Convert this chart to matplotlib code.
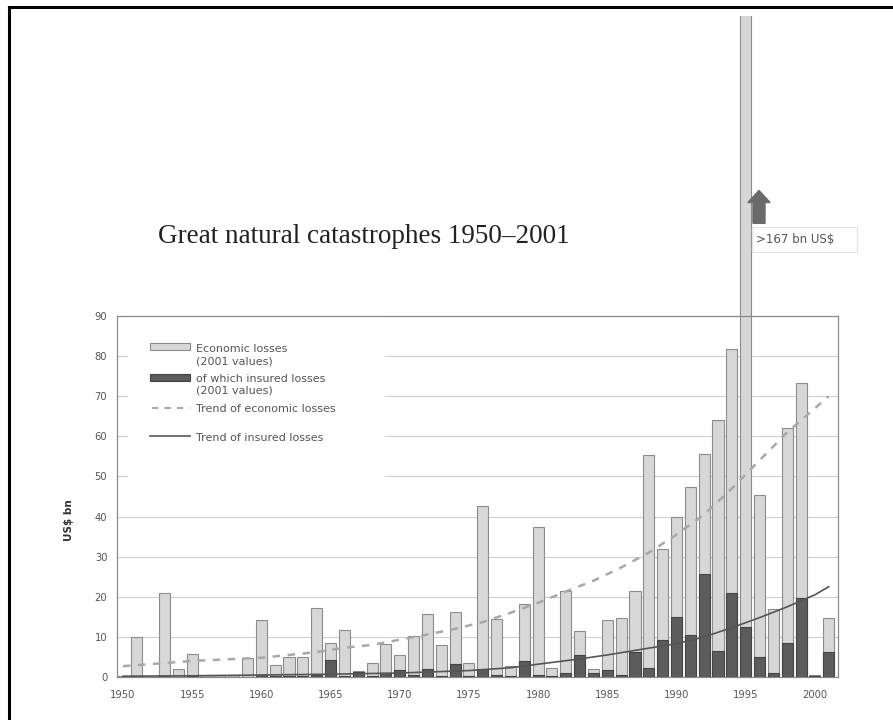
import matplotlib
matplotlib.use('Agg')
import matplotlib.pyplot as plt
from matplotlib.patches import Rectangle, FancyArrow
from matplotlib.lines import Line2D

# yearly losses in US$ bn (2001 values)
years = list(range(1950, 2002))
economic = [0.3, 10, 0, 21, 2, 5.7, 0.5, 0.5, 0.5, 4.8,
            14.2, 2.9, 4.9, 4.9, 17.2, 8.4, 11.6, 1.5, 3.4, 8.2,
            5.5, 10.1, 15.6, 8.1, 16.1, 3.4, 42.6, 14.4, 2.7, 18.3,
            37.5, 2.2, 21.4, 11.4, 1.9, 14.1, 14.6, 21.4, 55.3, 32,
            40, 47.4, 55.5, 64, 81.7, 167, 45.4, 17, 62, 73.2,
            0.6, 14.8]
insured = [0, 0.2, 0, 0.3, 0, 0.2, 0.1, 0.1, 0.1, 0.1,
           0.4, 0.2, 0.3, 0.3, 0.6, 4.3, 0.3, 1.3, 0.3, 1.1,
           1.7, 0.4, 2.1, 0.3, 3.3, 0.3, 2.1, 0.5, 0.3, 4.1,
           0.6, 0.2, 1.1, 5.4, 1.1, 1.7, 0.5, 6.2, 2.3, 9.1,
           15, 10.4, 25.7, 6.4, 21, 12.4, 5.1, 1.1, 8.4, 19.8,
           0.3, 6.2]

# trend curves, read at a few points
econ_trend_years = [1950, 1955, 1960, 1964, 1966, 1968, 1970, 1972, 1974, 1976,
                    1978, 1980, 1982, 1984, 1986, 1988, 1990, 1992, 1994, 1996,
                    1998, 2000, 2001]
econ_trend = [2.7, 4.0, 4.8, 6.2, 7.3, 8.0, 9.3, 10.6, 12.0, 13.7,
              16.0, 18.5, 21.3, 24.0, 27.3, 31.0, 35.5, 40.5, 47.0, 54.0,
              61.0, 67.0, 70.0]
ins_trend_years = [1950, 1955, 1960, 1965, 1970, 1975, 1978, 1980, 1983, 1985,
                   1988, 1990, 1992, 1994, 1996, 1998, 2000, 2001]
ins_trend = [0.2, 0.3, 0.5, 0.7, 1.0, 1.6, 2.3, 3.2, 4.5, 5.5,
             7.2, 8.3, 10.0, 12.3, 14.8, 17.5, 20.5, 22.5]

yticks = list(range(0, 91, 10))
xticks = list(range(1950, 2001, 5))

ECO_FACE, ECO_EDGE = '#d7d7d7', '#8c8c8c'
INS_FACE, INS_EDGE = '#5c5c5c', '#444444'
ETR_COL, ITR_COL = '#a8a8a8', '#555555'

W, H = 893, 720
fig = plt.figure(figsize=(W / 100, H / 100), dpi=100)
fig.patch.set_facecolor('white')

def fx(px):
    return px / W

def fy(py):
    return 1 - py / H

ax = fig.add_axes([fx(117), fy(677), (838 - 117) / W, (677 - 316) / H])
ax.set_xlim(1949.57, 2001.67)
ax.set_ylim(0, 90)

# white box behind legend hides the grid lines
ax.add_patch(Rectangle((0.015, 0.51), 0.357, 0.49, transform=ax.transAxes,
                       facecolor='white', edgecolor='none', zorder=1))

eco_bars = ax.bar(years, economic, width=0.8, color=ECO_FACE,
                  edgecolor=ECO_EDGE, linewidth=0.8, zorder=2)
ax.bar(years, insured, width=0.8, color=INS_FACE,
       edgecolor=INS_EDGE, linewidth=0.8, zorder=3)

# the 1995 bar runs out of the plot up to the frame
big = eco_bars[years.index(1995)]
big.set_clip_path(Rectangle((0, 0), 1, fy(16), transform=fig.transFigure))

ax.plot(econ_trend_years, econ_trend, color=ETR_COL, lw=1.8,
        dashes=(3, 3), zorder=4)
ax.plot(ins_trend_years, ins_trend, color=ITR_COL, lw=1.2, zorder=4)

ax.set_yticks(yticks)
ax.set_xticks(xticks)
ax.tick_params(axis='both', length=0, labelsize=7.2, labelcolor='#555555')
ax.tick_params(axis='y', pad=7)
ax.tick_params(axis='x', pad=9)
ax.yaxis.grid(True, color='#cfcfcf', lw=0.8)
ax.set_axisbelow(True)
for s in ax.spines.values():
    s.set_color('#8a8a8a')
    s.set_linewidth(0.9)
ax.set_ylabel('US$ bn', fontsize=7.5, color='#333333', fontweight='bold')
ax.yaxis.set_label_coords(-0.06, 0.435)

# legend, laid out like the original (keys aligned with first text line)
lt = dict(fontsize=8, color='#555555', va='center', ha='left')
fig.add_artist(Rectangle((fx(150), fy(350.5)), 40 / W, 7.5 / H, transform=fig.transFigure,
                         facecolor=ECO_FACE, edgecolor=ECO_EDGE, lw=0.8))
fig.text(fx(196), fy(349.3), 'Economic losses', **lt)
fig.text(fx(196), fy(361.5), '(2001 values)', **lt)
fig.add_artist(Rectangle((fx(150), fy(380.5)), 40 / W, 6.5 / H, transform=fig.transFigure,
                         facecolor=INS_FACE, edgecolor=INS_EDGE, lw=0.8))
fig.text(fx(196), fy(379.3), 'of which insured losses', **lt)
fig.text(fx(196), fy(390.7), '(2001 values)', **lt)
fig.add_artist(Line2D([fx(152), fx(190)], [fy(408.3)] * 2, transform=fig.transFigure,
                      color=ETR_COL, lw=1.5, dashes=(3, 3)))
fig.text(fx(196), fy(409.3), 'Trend of economic losses', **lt)
fig.add_artist(Line2D([fx(150), fx(190)], [fy(436.5)] * 2, transform=fig.transFigure,
                      color=ITR_COL, lw=1.2))
fig.text(fx(196), fy(438.0), 'Trend of insured losses', **lt)

# arrow and note for the off-scale 1995 bar
ax.add_patch(FancyArrow(1995.96, 113.1, 0, 8.2, width=0.87, head_width=1.6,
                        head_length=3.0, length_includes_head=True,
                        color='#6a6a6a', clip_on=False, zorder=5))
fig.add_artist(Rectangle((fx(752), fy(252)), 105 / W, 25 / H, transform=fig.transFigure,
                         facecolor='white', edgecolor='#e4e4e4', lw=0.9))
fig.text(fx(756), fy(240), '>167 bn US$', fontsize=8.5, color='#555555',
         va='center', ha='left')

fig.text(fx(158), fy(243), 'Great natural catastrophes 1950\u20132001',
         fontsize=19.5, family='Liberation Serif', color='#222222',
         va='baseline', ha='left')

# black frame of the scan (left and top edges)
fig.add_artist(Line2D([fx(9), fx(9)], [0, fy(7)], transform=fig.transFigure,
                      color='black', lw=2.2))
fig.add_artist(Line2D([fx(9), 1], [fy(7), fy(7)], transform=fig.transFigure,
                      color='black', lw=2.2))

fig.savefig('out.png', dpi=100)
